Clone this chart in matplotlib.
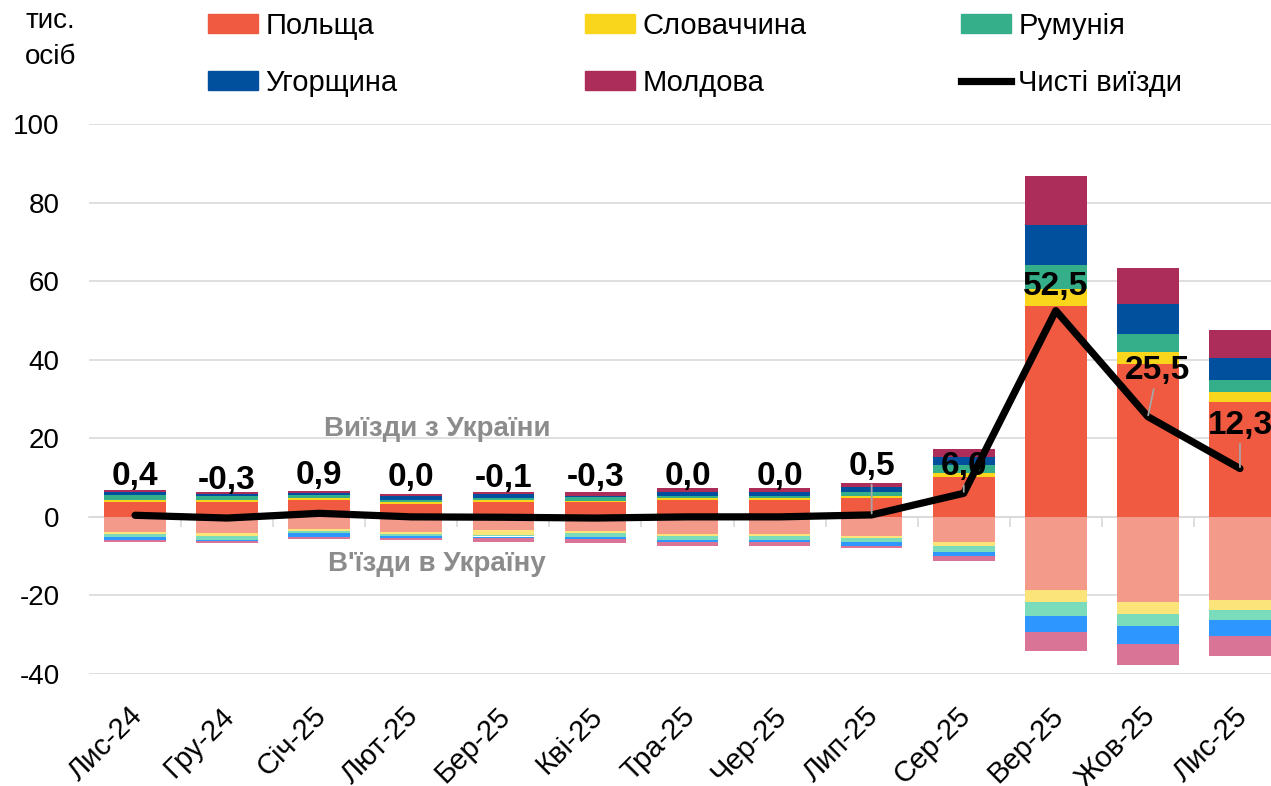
import matplotlib
matplotlib.use('Agg')
import matplotlib.pyplot as plt
import matplotlib.transforms as mtransforms
import numpy as np
from matplotlib.patches import Patch
from matplotlib.lines import Line2D

plt.rcParams['font.family'] = ['Liberation Sans', 'DejaVu Sans']
plt.rcParams['axes.unicode_minus'] = False

months = ['Лис-24', 'Гру-24', 'Січ-25', 'Лют-25', 'Бер-25', 'Кві-25', 'Тра-25',
          'Чер-25', 'Лип-25', 'Сер-25', 'Вер-25', 'Жов-25', 'Лис-25']

# виїзди з України, тис. осіб
out_pl = [3.9, 3.8, 4.3, 3.4, 3.8, 3.8, 4.3, 4.3, 4.8, 10.2, 53.6, 39.0, 29.3]
out_sk = [0.5, 0.6, 0.5, 0.5, 0.6, 0.3, 0.5, 0.5, 0.6, 1.0, 4.5, 2.9, 2.5]
out_ro = [1.1, 0.8, 0.8, 0.5, 0.4, 1.0, 0.6, 0.6, 1.0, 2.0, 6.1, 4.6, 3.1]
out_hu = [0.9, 0.7, 0.5, 1.0, 1.1, 0.3, 1.0, 1.0, 1.1, 2.1, 10.2, 7.7, 5.6]
out_md = [0.5, 0.5, 0.5, 0.5, 0.5, 0.9, 1.0, 1.0, 1.0, 2.0, 12.3, 9.1, 7.1]

# в'їзди в Україну, тис. осіб
in_pl = [-3.9, -4.2, -3.2, -3.8, -3.4, -3.5, -4.3, -4.3, -4.8, -6.4, -18.6, -21.7, -21.1]
in_sk = [-0.5, -0.6, -0.5, -0.5, -1.1, -0.5, -0.5, -0.5, -0.5, -1.0, -3.0, -2.9, -2.6]
in_ro = [-0.6, -1.0, -0.5, -0.6, -0.5, -1.1, -1.1, -1.1, -1.1, -1.5, -3.6, -3.2, -2.5]
in_hu = [-1.0, -0.4, -1.0, -0.5, -0.5, -0.5, -0.5, -0.5, -1.0, -1.0, -4.1, -4.5, -4.1]
in_md = [-0.5, -0.5, -0.5, -0.5, -1.0, -1.0, -1.0, -1.0, -0.6, -1.4, -4.9, -5.5, -5.0]

net = [0.4, -0.3, 0.9, 0.0, -0.1, -0.3, 0.0, 0.0, 0.5, 6.0, 52.5, 25.5, 12.3]

countries = ['Польща', 'Словаччина', 'Румунія', 'Угорщина', 'Молдова']
dark = ['#F05A40', '#F9D51C', '#35AF8A', '#00509E', '#AD2D5A']
light = ['#F49A8B', '#FBE57A', '#7BDCBC', '#2E97FF', '#DA7496']

# label offsets (points) relative to the line point
lab_dx = [0, 0, 0, 0, 0, 0, 0, 0, 0, 0, 0, 7, 0]
lab_dy = [28, 27, 27, 28, 28, 29, 29, 29, 35, 19, 17, 33, 31]
leader = [False] * 8 + [True, True, False, True, True]

W, H = 1271, 786
fig = plt.figure(figsize=(W / 100, H / 100), dpi=100)
ax = fig.add_axes([89 / W, 1 - 674 / H, 1197 / W, 550 / H])

x = np.arange(len(months))
bw = 0.67

outs = [out_pl, out_sk, out_ro, out_hu, out_md]
ins = [in_pl, in_sk, in_ro, in_hu, in_md]

bottom = np.zeros(len(x))
for vals, c, name in zip(outs, dark, countries):
    ax.bar(x, vals, bw, bottom=bottom, color=c, label=name, zorder=2)
    bottom += np.array(vals)
bottom = np.zeros(len(x))
for vals, c in zip(ins, light):
    ax.bar(x, vals, bw, bottom=bottom, color=c, zorder=2)
    bottom += np.array(vals)

ax.plot(x, net, color='black', lw=5.2, zorder=4, solid_joinstyle='round', solid_capstyle='round')

for i, v in enumerate(net):
    txt = f'{v:.1f}'.replace('.', ',')
    ap = None
    if leader[i]:
        ap = dict(arrowstyle='-', color='#A6A6A6', lw=1.3, shrinkA=0, shrinkB=1)
    ax.annotate(txt, (x[i], v), xytext=(lab_dx[i], lab_dy[i]), textcoords='offset points',
                ha='center', va='center', fontsize=24, fontweight='bold', color='black',
                zorder=6, arrowprops=ap, annotation_clip=False)

ax.text(3.28, 22.4, 'Виїзди з України', ha='center', va='center', fontsize=20,
        fontweight='bold', color='#8C8C8C', zorder=5)
ax.text(3.28, -12.0, "В'їзди в Україну", ha='center', va='center', fontsize=20,
        fontweight='bold', color='#8C8C8C', zorder=5)

ax.set_xlim(-0.5, len(x) - 0.5)
ax.set_ylim(-40, 100)
ax.set_yticks(np.arange(-40, 101, 20))
ax.grid(axis='y', color='#D9D9D9', lw=1.2)
ax.set_axisbelow(True)
for s in ax.spines.values():
    s.set_visible(False)
ax.tick_params(axis='y', length=0, pad=21, labelsize=20)
ax.set_xticks(x)
ax.set_xticklabels(months)
ax.tick_params(axis='x', length=0, pad=20, labelsize=21)
shift = mtransforms.ScaledTranslation(-7 / 100, 0, fig.dpi_scale_trans)
for lab in ax.get_xticklabels():
    lab.set_rotation(45)
    lab.set_ha('right')
    lab.set_va('top')
    lab.set_rotation_mode('anchor')
    lab.set_transform(lab.get_transform() + shift)

# tick marks on the zero line
sec = ax.secondary_xaxis(40 / 140)
sec.set_xticks(x[:-1] + 0.5)
sec.set_xticklabels([])
sec.tick_params(axis='x', length=7, width=1.2, color='#D9D9D9', direction='out')
sec.spines['bottom'].set_color('#D9D9D9')
sec.spines['bottom'].set_linewidth(1.2)

# legend in three columns
cols = [
    [Patch(color=dark[0]), Patch(color=dark[3])],
    [Patch(color=dark[1]), Patch(color=dark[4])],
    [Patch(color=dark[2]), Line2D([], [], color='black', lw=5.2)],
]
col_labels = [[countries[0], countries[3]], [countries[1], countries[4]],
              [countries[2], 'Чисті виїзди']]
col_x = [208, 585, 961]
for h, l, cx in zip(cols, col_labels, col_x):
    fig.legend(h, l, loc='upper left', bbox_to_anchor=(cx / W, 1 - 12 / H), frameon=False,
               fontsize=21, handlelength=1.72, handleheight=0.6, handletextpad=0.24,
               labelspacing=0.98, borderpad=0, borderaxespad=0)

fig.text(25 / W, 1 - 39 / H, 'тис.\nосіб', ha='left', va='center', fontsize=20,
         linespacing=1.55)

fig.savefig('out.png', dpi=100)
